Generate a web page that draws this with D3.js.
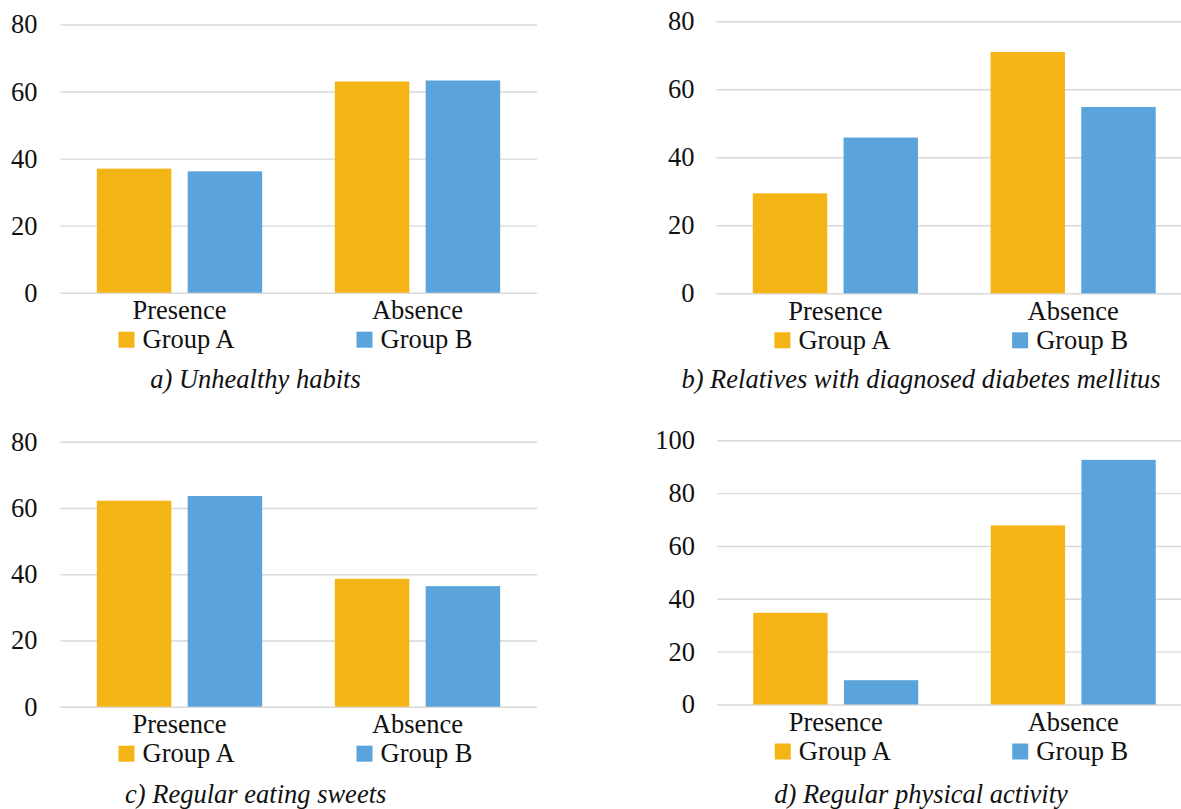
<!DOCTYPE html>
<html>
<head>
<meta charset="utf-8">
<script src="https://cdn.jsdelivr.net/npm/d3@7"></script>
<style>
  body { margin: 0; background: #fff; }
  svg { display: block; }
</style>
</head>
<body>
<div id="chart"></div>
<script>
// values (percent)
const categories = ["Presence", "Absence"];
const groups = ["Group A", "Group B"];
const colors = ["#F4B415", "#5BA4DB"];

const unhealthyA = [37.0, 63.0];
const unhealthyB = [36.2, 63.3];
const relativesA = [29.4, 71.0];
const relativesB = [45.8, 54.8];
const sweetsA = [62.2, 38.6];
const sweetsB = [63.6, 36.4];
const activityA = [34.7, 67.8];
const activityB = [9.2, 92.6];

const ticks80 = [0, 20, 40, 60, 80];
const ticks100 = [0, 20, 40, 60, 80, 100];

const captions = [
  "a) Unhealthy habits",
  "b) Relatives with diagnosed diabetes mellitus",
  "c) Regular eating sweets",
  "d) Regular physical activity"
];

const W = 1181, H = 809;
const fontSize = 26.5;
const serif = "'Liberation Serif', 'Times New Roman', Tinos, 'DejaVu Serif', serif";
const ink = "#111";

const svg = d3.select("#chart").append("svg")
  .attr("width", W)
  .attr("height", H);

// one panel = one little grouped bar chart
function drawPanel(p) {
  const g = svg.append("g");

  const x0 = d3.scaleBand()
    .domain(categories)
    .range([p.left, p.right]);

  const x1 = d3.scaleBand()
    .domain(groups)
    .range([0, x0.bandwidth()])
    .paddingInner(0.18)
    .paddingOuter(0.40);

  const y = d3.scaleLinear()
    .domain([0, p.max])
    .range([p.zero, p.top]);

  // gridlines + tick labels
  const yAxis = d3.axisLeft(y)
    .tickValues(p.ticks)
    .tickSize(-(p.gridEnd - p.left))
    .tickPadding(p.pad)
    .tickFormat(d3.format("d"));

  const ax = g.append("g")
    .attr("transform", `translate(${p.left},0)`)
    .call(yAxis)
    .attr("font-family", null)
    .attr("font-size", null);
  ax.select(".domain").remove();
  ax.selectAll(".tick line")
    .attr("stroke", "#d9d9d9")
    .attr("stroke-width", 1.4);
  ax.selectAll(".tick text")
    .style("font-family", serif)
    .style("font-size", fontSize + "px")
    .style("fill", ink);

  // bars
  const rows = categories.map((c, i) => ({
    cat: c,
    vals: groups.map((grp, j) => ({ grp: grp, v: p.series[j][i], color: colors[j] }))
  }));

  g.selectAll("g.cat")
    .data(rows)
    .enter()
    .append("g")
      .attr("class", "cat")
      .attr("transform", d => `translate(${x0(d.cat)},0)`)
    .selectAll("rect")
    .data(d => d.vals)
    .enter()
    .append("rect")
      .attr("x", d => x1(d.grp))
      .attr("width", x1.bandwidth())
      .attr("y", d => y(d.v))
      .attr("height", d => y(0) - y(d.v))
      .attr("fill", d => d.color);

  // category labels
  g.selectAll("text.catlabel")
    .data(categories)
    .enter()
    .append("text")
      .attr("class", "catlabel")
      .attr("x", d => x0(d) + x0.bandwidth() / 2)
      .attr("y", p.zero + 26.5)
      .attr("text-anchor", "middle")
      .style("font-family", serif)
      .style("font-size", fontSize + "px")
      .style("fill", ink)
      .text(d => d);

  // legend, one entry under each category
  const leg = g.selectAll("g.leg")
    .data(groups)
    .enter()
    .append("g")
      .attr("class", "leg")
      .attr("transform", (d, i) => `translate(${x0(categories[i]) + x0.bandwidth() / 2 - 61},${p.zero + 39})`);
  leg.append("rect")
    .attr("width", 16)
    .attr("height", 16)
    .attr("fill", (d, i) => colors[i]);
  leg.append("text")
    .attr("x", 24)
    .attr("y", 16.5)
    .style("font-family", serif)
    .style("font-size", fontSize + "px")
    .style("fill", ink)
    .text(d => d);

  // caption
  g.append("text")
    .attr("x", p.capX)
    .attr("y", p.capY)
    .attr("text-anchor", "middle")
    .style("font-family", serif)
    .style("font-size", fontSize + "px")
    .style("font-style", "italic")
    .style("fill", ink)
    .text(p.caption);
}

drawPanel({ left: 60.5, right: 536.5, gridEnd: 537, top: 24.5, zero: 292.7, max: 80, ticks: ticks80, pad: 23,
  series: [unhealthyA, unhealthyB], caption: captions[0], capX: 255.5, capY: 387.5 });
drawPanel({ left: 716.5, right: 1192, gridEnd: 1192, top: 21.3, zero: 293.3, max: 80, ticks: ticks80, pad: 22,
  series: [relativesA, relativesB], caption: captions[1], capX: 921, capY: 387.5 });
drawPanel({ left: 60.5, right: 536.5, gridEnd: 537, top: 441.7, zero: 706.7, max: 80, ticks: ticks80, pad: 23,
  series: [sweetsA, sweetsB], caption: captions[2], capX: 255.7, capY: 803 });
drawPanel({ left: 717, right: 1192, gridEnd: 1192, top: 440.3, zero: 704.5, max: 100, ticks: ticks100, pad: 22,
  series: [activityA, activityB], caption: captions[3], capX: 921, capY: 803 });
</script>
</body>
</html>
